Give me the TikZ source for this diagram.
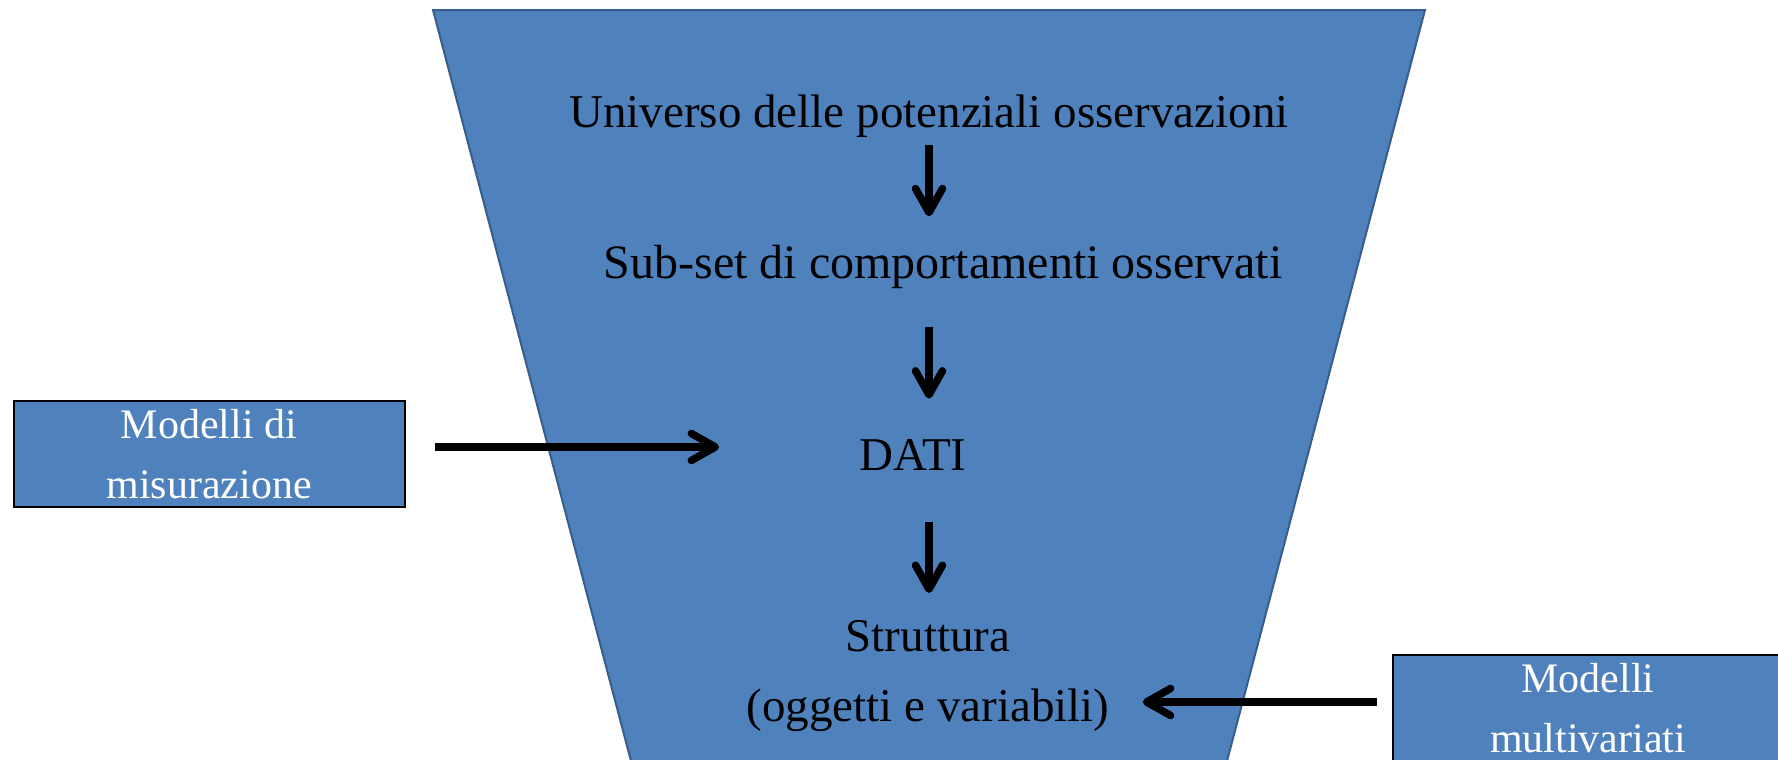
\documentclass[tikz,border=0pt]{standalone}
\usepackage{fontspec}
\setmainfont{Liberation Serif}
\usetikzlibrary{arrows.meta}

\definecolor{funnelblue}{HTML}{4F81BD}
\definecolor{funneledge}{HTML}{385D8A}

\begin{document}
\begin{tikzpicture}[x=0.5pt, y=-0.5pt,
        stage/.style={inner sep=0pt, font=\fontsize{23.5}{35}\selectfont},
        modelbox/.style={draw=black, line width=1pt, fill=funnelblue, text=white, inner sep=0pt,
            minimum width=195.5pt, minimum height=53pt, align=center, font=\fontsize{21}{30}\selectfont},
        flow/.style={line width=3.75pt, -{Straight Barb[length=12pt, width=13.5pt, round]}}]
    \clip (0,0) rectangle (1778,760);
    \fill [white] (0,0) rectangle (1778,760);

    % the funnel
    \path [draw=funneledge, fill=funnelblue, line width=1pt] (433,10) -- (1425,10) -- (1222,780) -- (636,780) -- cycle;

    \node [stage, anchor=base] (univ) at (929,127) {Universo delle potenziali osservazioni};
    \node [stage, anchor=base, font=\fontsize{24}{35}\selectfont] (sub) at (943,278) {Sub-set di comportamenti osservati};
    \node [stage, anchor=base] (dati) at (913,470) {DATI};
    \node [stage, anchor=north, align=center] (strutt) at (928,620) {Struttura\\(oggetti e variabili)};

    \node [modelbox] (misura) at (209,454) {Modelli di\\misurazione};
    \node [modelbox] (multi) at (1588,708) {Modelli\\multivariati};

    \draw [flow, shorten <=4pt, shorten >=14pt] (univ.south) -- (univ.south |- sub.north);
    \draw [flow, shorten <=19pt, shorten >=20pt] (sub.south -| univ.south) -- (univ.south |- dati.north);
    \draw [flow, shorten <=26pt, shorten >=13.5pt] (dati.south -| univ.south) -- (univ.south |- strutt.north);

    \draw [flow, shorten <=14.5pt, shorten >=70pt] ([yshift=3.5pt]misura.east) -- ([yshift=3.5pt]misura.east -| dati.west);
    \draw [flow, shorten <=7.5pt, shorten >=16.5pt] ([yshift=3pt]multi.west) -- ([yshift=3pt]multi.west -| strutt.east);
\end{tikzpicture}
\end{document}
